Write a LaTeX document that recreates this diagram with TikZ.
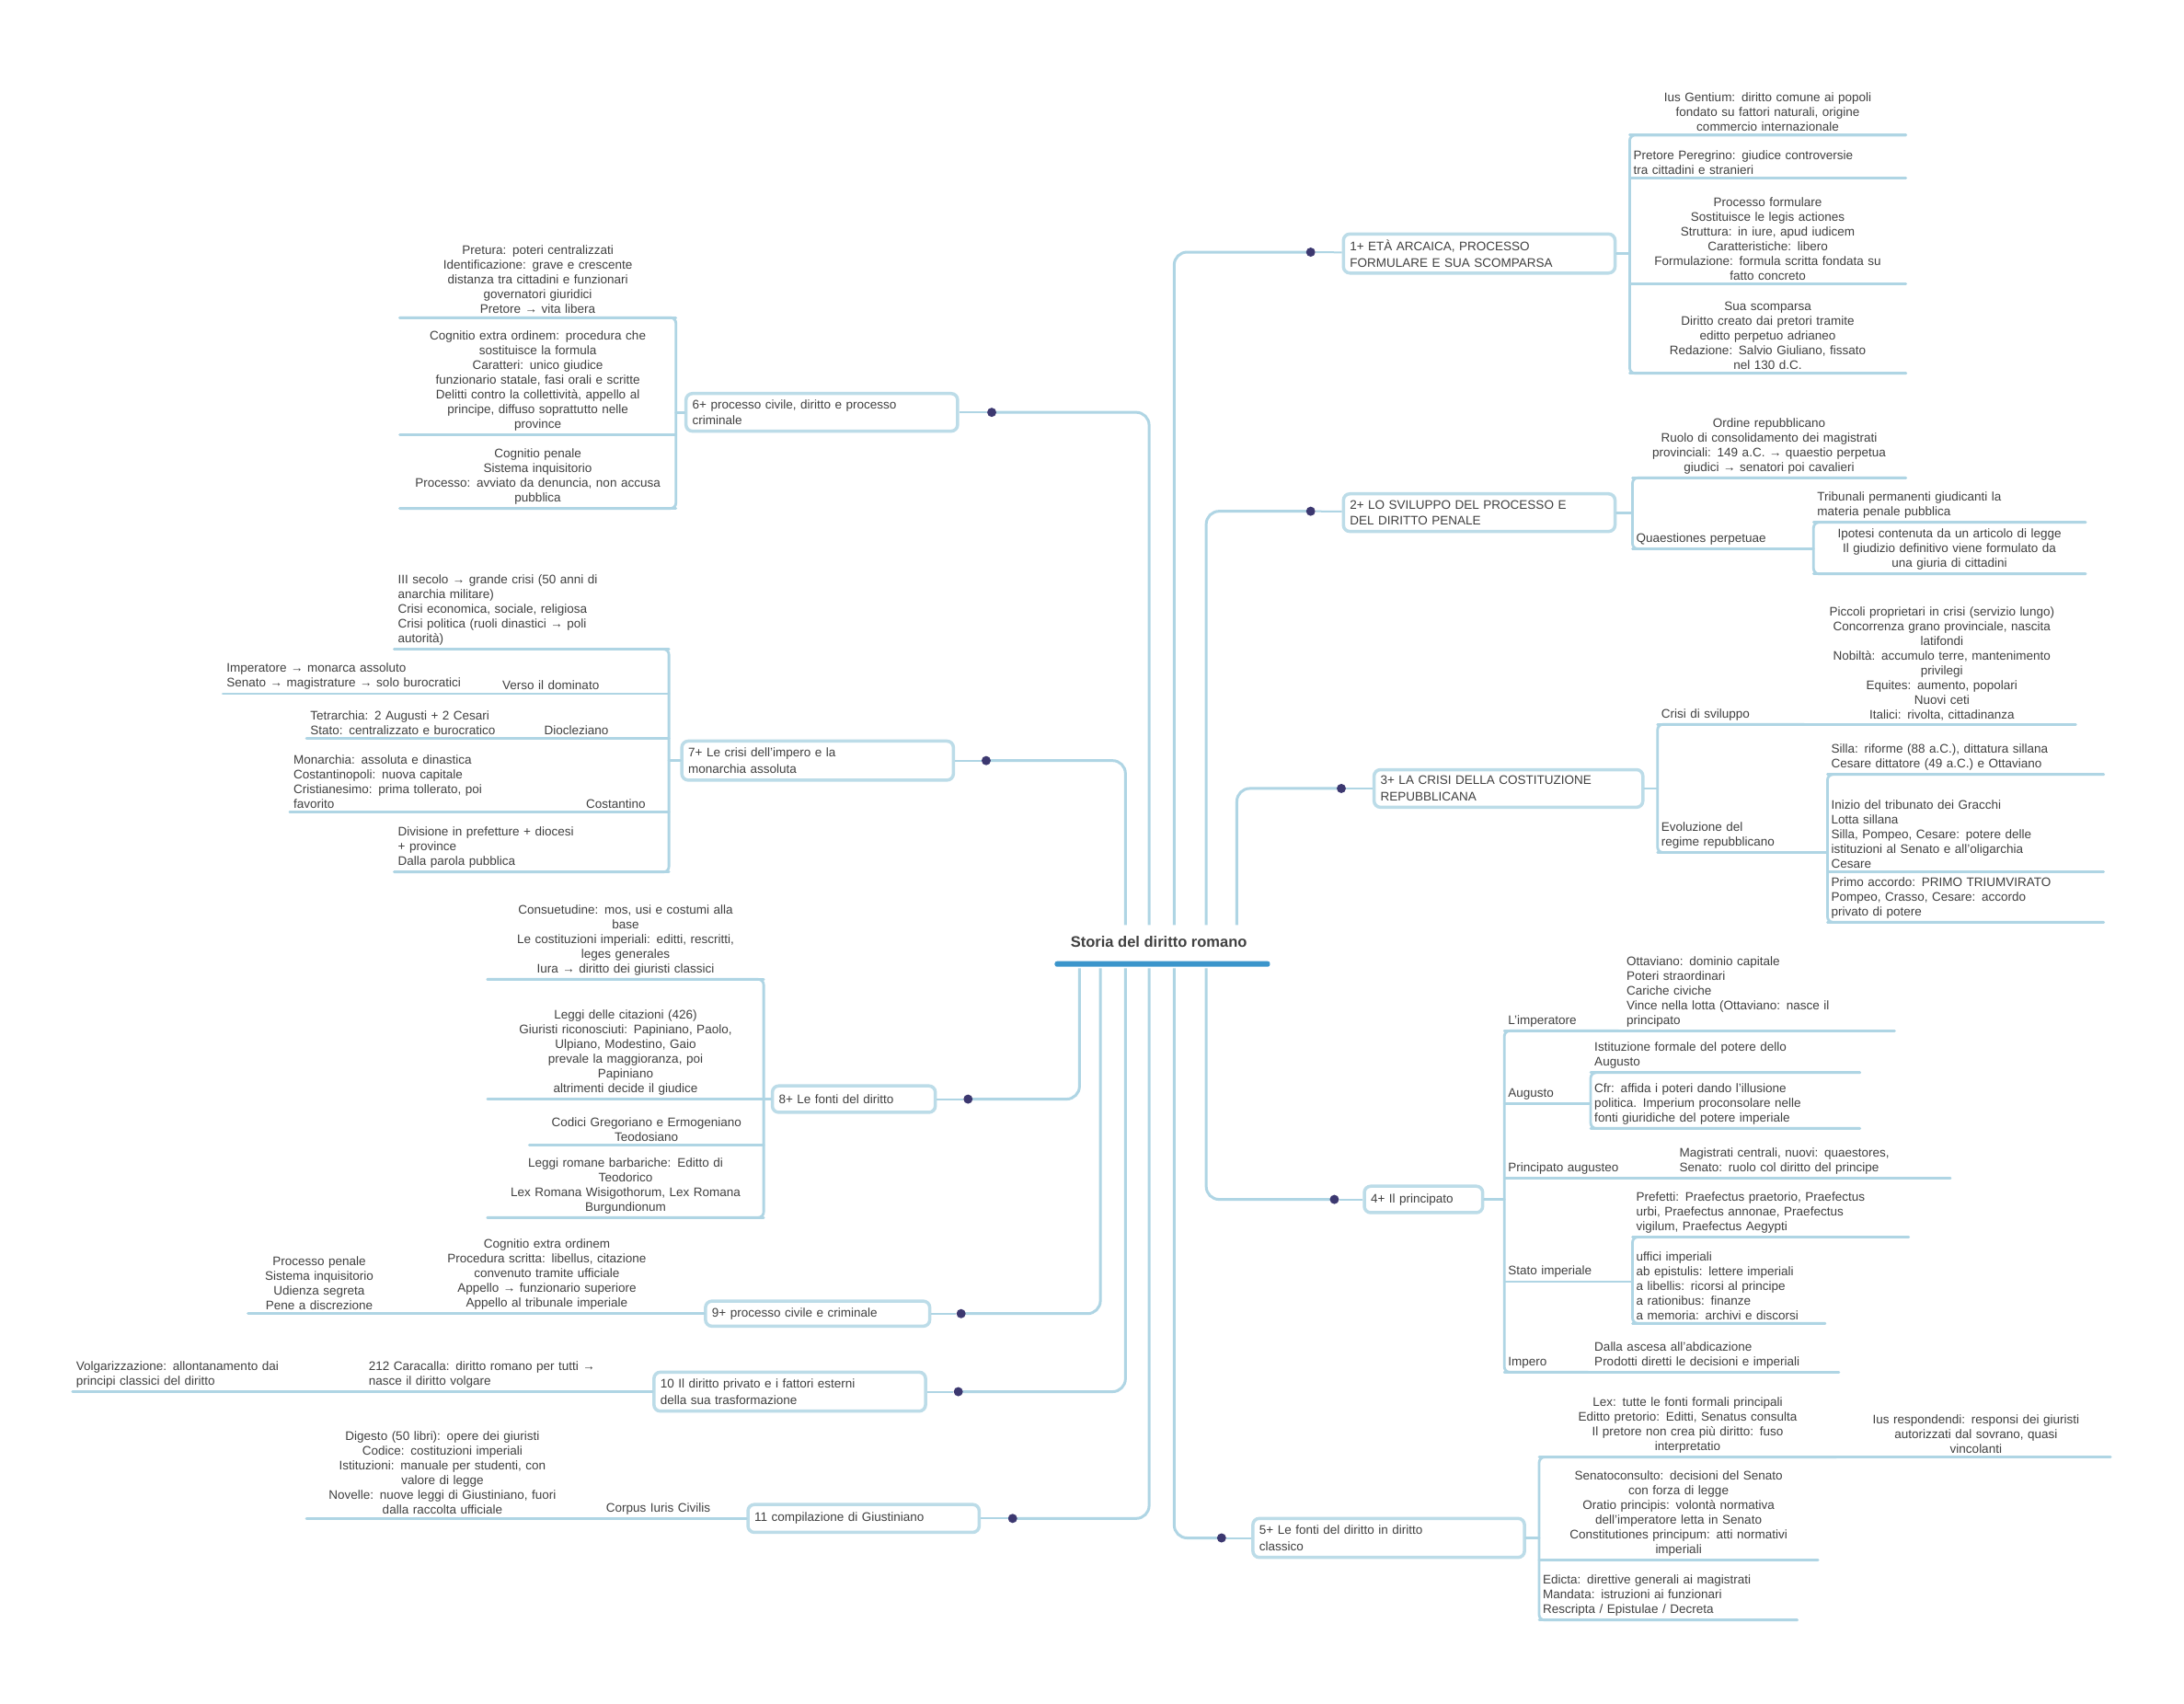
\documentclass[tikz,border=0pt]{standalone}
\usepackage{fontspec}
\setmainfont{Liberation Sans}
\definecolor{lb}{HTML}{AFD5E4}
\definecolor{nb}{HTML}{BCDCE8}
\definecolor{txt}{HTML}{404040}
\definecolor{dotc}{HTML}{3C3870}
\definecolor{barc}{HTML}{3B95CB}
\tikzset{
 mmul/.style={draw=lb, line width=2.8pt, line cap=round},
 mmconn/.style={draw=lb, line width=3pt, rounded corners=14pt},
 mmlink/.style={draw=lb, line width=2pt},
 mmkid/.style={anchor=south west, inner xsep=4pt, inner ysep=4pt, font=\fontsize{13.5}{16}\selectfont, text=txt},
 mmbranch/.style={draw=nb, line width=3.5pt, fill=white, rounded corners=7pt, align=left, inner xsep=7pt, inner ysep=3pt, font=\fontsize{13.5}{17.5}\selectfont, text=txt},
 mmdot/.style={circle, fill=dotc, inner sep=0pt, minimum size=10pt},
 mmbar/.style={fill=barc, rounded corners=2.5pt, inner sep=0pt, minimum height=6pt},
 mmroot/.style={font=\fontsize{16.5}{18}\selectfont\bfseries, text=txt, inner sep=2pt},
}
\newcommand{\mkid}[6]{%
  \pgfmathsetmacro{\mkw}{(#3-#2)*1.514-8}%
  \node[mmkid, align=#5, text width=\mkw pt] (#1) at (#2,#4) {#6};%
  \draw[mmul] (#1.south west) -- (#1.south east);}
\newcommand{\mbranch}[6]{%
  \pgfmathsetmacro{\mbw}{#4*1.514}\pgfmathsetmacro{\mbh}{#5*1.514}\pgfmathsetmacro{\mbt}{#4*1.514-14}%
  \node[mmbranch, minimum width=\mbw pt, minimum height=\mbh pt, text width=\mbt pt] (#1) at (#2,#3) {#6};}
\newcommand{\brR}[2]{\draw[mmul, rounded corners=6pt] (#1.south east) -- (#1.south west) -- (#2.south west) -- (#2.south east);}
\newcommand{\brL}[2]{\draw[mmul, rounded corners=6pt] (#1.south west) -- (#1.south east) -- (#2.south east) -- (#2.south west);}
\begin{document}
\begin{tikzpicture}[x=1.514pt,y=-1.514pt]
\path[use as bounding box, fill=white] (0,0) rectangle (1568,1223);

% ---------- centre ----------
\node[mmroot] (root) at (832,676) {Storia del diritto romano};
\node[mmbar, minimum width=234pt] (bar) at (834.5,692) {};

\coordinate (sL2) at (808,664);
\coordinate (sL1) at (825,664);
\coordinate (sR1) at (843,664);
\coordinate (sR2) at (866,664);
\coordinate (sR3) at (888,664);
\coordinate (sL3) at (775,695);
\coordinate (sL4) at (790,695);
\coordinate (sL5) at (808,695);
\coordinate (sL6) at (825,695);
\coordinate (sR5) at (843,695);
\coordinate (sR4) at (866,695);

% ---------- branch nodes ----------
\mbranch{nR1}{1062}{182}{195}{28}{1+ ETÀ ARCAICA, PROCESSO\\FORMULARE E SUA SCOMPARSA}
\mbranch{nR2}{1062}{368}{195}{27}{2+ LO SVILUPPO DEL PROCESSO E\\DEL DIRITTO PENALE}
\mbranch{nR3}{1083}{566}{193}{27}{3+ LA CRISI DELLA COSTITUZIONE\\REPUBBLICANA}
\mbranch{nR4}{1022}{861}{85}{19}{4+ Il principato}
\mbranch{nR5}{997}{1104}{195}{28}{5+ Le fonti del diritto in diritto\\classico}
\mbranch{nL1}{590}{296}{195}{27}{6+ processo civile, diritto e processo\\criminale}
\mbranch{nL2}{587}{546}{195}{28}{7+ Le crisi dell'impero e la\\monarchia assoluta}
\mbranch{nL3}{613}{789}{117}{19}{8+ Le fonti del diritto}
\mbranch{nL4}{587}{943}{161}{18}{9+ processo civile e criminale}
\mbranch{nL5}{567}{999}{195}{28}{10 Il diritto privato e i fattori esterni\\della sua trasformazione}
\mbranch{nL6}{620}{1090}{166}{20}{11 compilazione di Giustiniano}

% ---------- connectors from centre ----------
\draw[mmconn] (sR1) |- (941,181) coordinate (cR1);
\draw[mmconn] (sR2) |- (941,367) coordinate (cR2);
\draw[mmconn] (sR3) |- (963,566) coordinate (cR3);
\draw[mmconn] (sR4) |- (958,861) coordinate (cR4);
\draw[mmconn] (sR5) |- (877,1104) coordinate (cR5);
\draw[mmconn] (sL1) |- (712,296) coordinate (cL1);
\draw[mmconn] (sL2) |- (708,546) coordinate (cL2);
\draw[mmconn] (sL3) |- (695,789) coordinate (cL3);
\draw[mmconn] (sL4) |- (690,943) coordinate (cL4);
\draw[mmconn] (sL5) |- (688,999) coordinate (cL5);
\draw[mmconn] (sL6) |- (727,1090) coordinate (cL6);

\node[mmdot] (dR1) at (cR1) {};
\node[mmdot] (dR2) at (cR2) {};
\node[mmdot] (dR3) at (cR3) {};
\node[mmdot] (dR4) at (cR4) {};
\node[mmdot] (dR5) at (cR5) {};
\node[mmdot] (dL1) at (cL1) {};
\node[mmdot] (dL2) at (cL2) {};
\node[mmdot] (dL3) at (cL3) {};
\node[mmdot] (dL4) at (cL4) {};
\node[mmdot] (dL5) at (cL5) {};
\node[mmdot] (dL6) at (cL6) {};
\foreach \n in {R1,R2,R3,R4,R5,L1,L2,L3,L4,L5,L6}{\draw[mmlink] (d\n) -- (n\n);}

% ---------- R1 ----------
\mkid{r1a}{1170}{1368}{97}{center}{Ius Gentium: diritto comune ai popoli\\fondato su fattori naturali, origine\\commercio internazionale}
\mkid{r1b}{1170}{1368}{128}{left}{Pretore Peregrino: giudice controversie\\tra cittadini e stranieri}
\mkid{r1c}{1170}{1368}{204}{center}{Processo formulare\\Sostituisce le legis actiones\\Struttura: in iure, apud iudicem\\Caratteristiche: libero\\Formulazione: formula scritta fondata su\\fatto concreto}
\mkid{r1d}{1170}{1368}{268}{center}{Sua scomparsa\\Diritto creato dai pretori tramite\\editto perpetuo adrianeo\\Redazione: Salvio Giuliano, fissato\\nel 130 d.C.}
\brR{r1a}{r1d}
\draw[mmul] (nR1.east) -- (nR1.east -| r1a.south west);

% ---------- R2 ----------
\mkid{r2a}{1172}{1368}{343}{center}{Ordine repubblicano\\Ruolo di consolidamento dei magistrati\\provinciali: 149 a.C. → quaestio perpetua\\giudici → senatori poi cavalieri}
\mkid{r2b}{1172}{1300}{394}{left}{Quaestiones perpetuae}
\brR{r2a}{r2b}
\draw[mmul] (nR2.east) -- (nR2.east -| r2a.south west);
\mkid{r2c}{1302}{1497}{375}{left}{Tribunali permanenti giudicanti la\\materia penale pubblica}
\mkid{r2d}{1302}{1497}{412}{center}{Ipotesi contenuta da un articolo di legge\\Il giudizio definitivo viene formulato da\\una giuria di cittadini}
\brR{r2c}{r2d}
\draw[mmul] (r2b.south east) -- (r2b.south east -| r2c.south west);

% ---------- R3 ----------
\mkid{r3a}{1190}{1295}{520}{left}{Crisi di sviluppo}
\mkid{r3a1}{1298}{1490}{520}{center}{Piccoli proprietari in crisi (servizio lungo)\\Concorrenza grano provinciale, nascita\\latifondi\\Nobiltà: accumulo terre, mantenimento\\privilegi\\Equites: aumento, popolari\\Nuovi ceti\\Italici: rivolta, cittadinanza}
\draw[mmul] (r3a.south east) -- (r3a1.south west);
\mkid{r3b}{1190}{1305}{612}{left}{Evoluzione del\\regime repubblicano}
\brR{r3a}{r3b}
\draw[mmul] (nR3.east) -- (nR3.east -| r3a.south west);
\mkid{r3c}{1312}{1510}{556}{left}{Silla: riforme (88 a.C.), dittatura sillana\\Cesare dittatore (49 a.C.) e Ottaviano}
\mkid{r3d}{1312}{1510}{626}{left}{Inizio del tribunato dei Gracchi\\Lotta sillana\\Silla, Pompeo, Cesare: potere delle\\istituzioni al Senato e all'oligarchia\\Cesare}
\mkid{r3e}{1312}{1510}{662}{left}{Primo accordo: PRIMO TRIUMVIRATO\\Pompeo, Crasso, Cesare: accordo\\privato di potere}
\brR{r3c}{r3e}
\draw[mmul] (r3b.south east) -- (r3b.south east -| r3c.south west);

% ---------- R4 ----------
\mkid{r4a}{1080}{1162}{740}{left}{L'imperatore}
\mkid{r4a1}{1165}{1360}{740}{left}{Ottaviano: dominio capitale\\Poteri straordinari\\Cariche civiche\\Vince nella lotta (Ottaviano: nasce il\\principato}
\draw[mmul] (r4a.south east) -- (r4a1.south west);
\mkid{r4b}{1080}{1140}{792}{left}{Augusto}
\mkid{r4b1}{1142}{1335}{770}{left}{Istituzione formale del potere dello\\Augusto}
\mkid{r4b2}{1142}{1335}{810}{left}{Cfr: affida i poteri dando l'illusione\\politica. Imperium proconsolare nelle\\fonti giuridiche del potere imperiale}
\brR{r4b1}{r4b2}
\draw[mmul] (r4b.south east) -- (r4b.south east -| r4b1.south west);
\mkid{r4c}{1080}{1200}{846}{left}{Principato augusteo}
\mkid{r4c1}{1203}{1400}{846}{left}{Magistrati centrali, nuovi: quaestores,\\Senato: ruolo col diritto del principe}
\draw[mmul] (r4c.south east) -- (r4c1.south west);
\mkid{r4d}{1080}{1170}{920}{left}{Stato imperiale}
\mkid{r4d1}{1172}{1370}{888}{left}{Prefetti: Praefectus praetorio, Praefectus\\urbi, Praefectus annonae, Praefectus\\vigilum, Praefectus Aegypti}
\mkid{r4d2}{1172}{1310}{950}{left}{uffici imperiali\\ab epistulis: lettere imperiali\\a libellis: ricorsi al principe\\a rationibus: finanze\\a memoria: archivi e discorsi}
\brR{r4d1}{r4d2}
\draw[mmul] (r4d.south east) -- (r4d.south east -| r4d1.south west);
\mkid{r4e}{1080}{1140}{985}{left}{Impero}
\mkid{r4e1}{1142}{1320}{985}{left}{Dalla ascesa all'abdicazione\\Prodotti diretti le decisioni e imperiali}
\draw[mmul] (r4e.south east) -- (r4e1.south west);
\brR{r4a}{r4e}
\draw[mmul] (nR4.east) -- (nR4.east -| r4a.south west);

% ---------- R5 ----------
\mkid{r5a}{1105}{1318}{1046}{center}{Lex: tutte le fonti formali principali\\Editto pretorio: Editti, Senatus consulta\\Il pretore non crea più diritto: fuso\\interpretatio}
\mkid{r5a1}{1322}{1515}{1046}{center}{Ius respondendi: responsi dei giuristi\\autorizzati dal sovrano, quasi\\vincolanti}
\draw[mmul] (r5a.south east) -- (r5a1.south west);
\mkid{r5b}{1105}{1305}{1120}{center}{Senatoconsulto: decisioni del Senato\\con forza di legge\\Oratio principis: volontà normativa\\dell'imperatore letta in Senato\\Constitutiones principum: atti normativi\\imperiali}
\mkid{r5c}{1105}{1290}{1163}{left}{Edicta: direttive generali ai magistrati\\Mandata: istruzioni ai funzionari\\Rescripta / Epistulae / Decreta}
\brR{r5a}{r5c}
\draw[mmul] (nR5.east) -- (nR5.east -| r5a.south west);

% ---------- L1 ----------
\mkid{l1a}{287}{485}{228}{center}{Pretura: poteri centralizzati\\Identificazione: grave e crescente\\distanza tra cittadini e funzionari\\governatori giuridici\\Pretore → vita libera}
\mkid{l1b}{287}{485}{312}{center}{Cognitio extra ordinem: procedura che\\sostituisce la formula\\Caratteri: unico giudice\\funzionario statale, fasi orali e scritte\\Delitti contro la collettività, appello al\\principe, diffuso soprattutto nelle\\province}
\mkid{l1c}{287}{485}{365}{center}{Cognitio penale\\Sistema inquisitorio\\Processo: avviato da denuncia, non accusa\\pubblica}
\brL{l1a}{l1c}
\draw[mmul] (nL1.west) -- (nL1.west -| l1a.south east);

% ---------- L2 ----------
\mkid{l2a}{283}{480}{466}{left}{III secolo → grande crisi (50 anni di\\anarchia militare)\\Crisi economica, sociale, religiosa\\Crisi politica (ruoli dinastici → poli\\autorità)}
\mkid{l2b}{358}{480}{498}{left}{Verso il dominato}
\mkid{l2b1}{160}{355}{498}{left}{Imperatore → monarca assoluto\\Senato → magistrature → solo burocratici}
\draw[mmul] (l2b1.south east) -- (l2b.south west);
\mkid{l2c}{388}{480}{530}{left}{Diocleziano}
\mkid{l2c1}{220}{385}{530}{left}{Tetrarchia: 2 Augusti + 2 Cesari\\Stato: centralizzato e burocratico}
\draw[mmul] (l2c1.south east) -- (l2c.south west);
\mkid{l2d}{418}{480}{583}{left}{Costantino}
\mkid{l2d1}{208}{415}{583}{left}{Monarchia: assoluta e dinastica\\Costantinopoli: nuova capitale\\Cristianesimo: prima tollerato, poi\\favorito}
\draw[mmul] (l2d1.south east) -- (l2d.south west);
\mkid{l2e}{283}{480}{626}{left}{Divisione in prefetture + diocesi\\+ province\\Dalla parola pubblica}
\brL{l2a}{l2e}
\draw[mmul] (nL2.west) -- (nL2.west -| l2a.south east);

% ---------- L3 ----------
\mkid{l3a}{350}{548}{703}{center}{Consuetudine: mos, usi e costumi alla\\base\\Le costituzioni imperiali: editti, rescritti,\\leges generales\\Iura → diritto dei giuristi classici}
\mkid{l3b}{350}{548}{789}{center}{Leggi delle citazioni (426)\\Giuristi riconosciuti: Papiniano, Paolo,\\Ulpiano, Modestino, Gaio\\prevale la maggioranza, poi\\Papiniano\\altrimenti decide il giudice\\[6pt]}
\mkid{l3c}{380}{548}{822}{center}{Codici Gregoriano e Ermogeniano\\Teodosiano}
\mkid{l3d}{350}{548}{874}{center}{Leggi romane barbariche: Editto di\\Teodorico\\Lex Romana Wisigothorum, Lex Romana\\Burgundionum}
\brL{l3a}{l3d}
\draw[mmul] (nL3.west) -- (nL3.west -| l3a.south east);

% ---------- L4 ----------
\mkid{l4a}{285}{500}{943}{center}{Cognitio extra ordinem\\Procedura scritta: libellus, citazione\\convenuto tramite ufficiale\\Appello → funzionario superiore\\Appello al tribunale imperiale}
\mkid{l4a1}{178}{280}{943}{center}{Processo penale\\Sistema inquisitorio\\Udienza segreta\\Pene a discrezione}
\draw[mmul] (l4a1.south east) -- (l4a.south west);
\draw[mmul] (nL4.west) -- (l4a.south east);

% ---------- L5 ----------
\mkid{l5a}{262}{462}{999}{left}{212 Caracalla: diritto romano per tutti →\\nasce il diritto volgare}
\mkid{l5a1}{52}{248}{999}{left}{Volgarizzazione: allontanamento dai\\principi classici del diritto}
\draw[mmul] (l5a1.south east) -- (l5a.south west);
\draw[mmul] (nL5.west) -- (nL5.west -| l5a.south east);

% ---------- L6 ----------
\mkid{l6a}{425}{520}{1090}{center}{Corpus Iuris Civilis}
\mkid{l6a1}{220}{415}{1090}{center}{Digesto (50 libri): opere dei giuristi\\Codice: costituzioni imperiali\\Istituzioni: manuale per studenti, con\\valore di legge\\Novelle: nuove leggi di Giustiniano, fuori\\dalla raccolta ufficiale}
\draw[mmul] (l6a1.south east) -- (l6a.south west);
\draw[mmul] (nL6.west) -- (nL6.west -| l6a.south east);
\end{tikzpicture}
\end{document}
